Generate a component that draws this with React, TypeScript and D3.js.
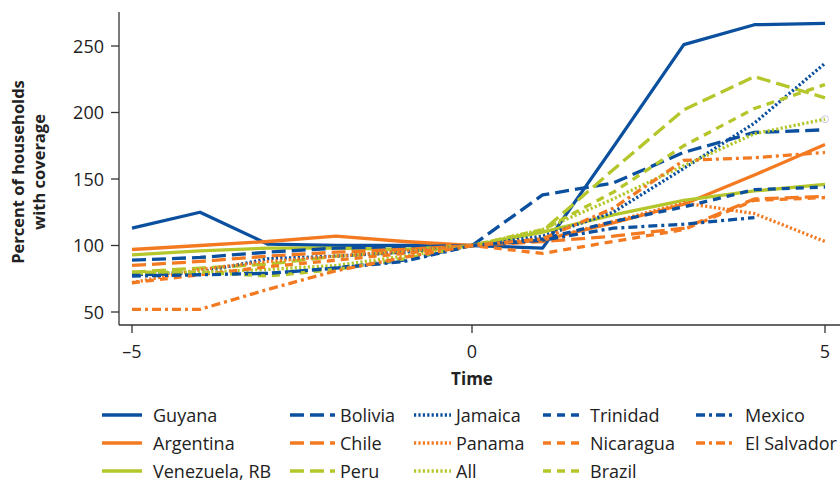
import React from "react";
import * as d3 from "d3";

const W = 840;
const H = 485;

const times = [-5, -4, -3, -2, -1, 0, 1, 2, 3, 4, 5];

const guyana = [113, 125, 101, 100, 100, 100, 98, 174, 251, 266, 267];
const argentina = [97, 100, 103, 107, 103, 100, 104, 117, 131, 153, 176];
const venezuela = [93, 96, 98, 98, 97, 100, 110, 123, 134, 141, 146];
const bolivia = [89, 91, 95, 98, 99, 100, 138, 147, 170, 185, 187];
const chile = [85, 88, 92, 95, 97, 100, 103, 107, 113, 135, 137];
const peru = [80, 83, 86, 92, 95, 100, 111, 157, 202, 227, 211];
const jamaica = [78, 80, 90, 92, 95, 100, 107, 125, 158, 192, 237];
const panama = [72, 82, 88, 92, 96, 100, 104, 118, 132, 124, 103];
const allCountries = [79, 80, 82, 85, 92, 100, 112, 135, 160, 184, 195];
const trinidad = [78, 79, 79, 83, 89, 100, 105, 118, 129, 142, 144];
const nicaragua = [72, 78, 84, 89, 94, 100, 94, 103, 112, 134, 136];
const brazil = [80, 80, 77, 82, 90, 100, 112, 140, 175, 203, 221];
const mexico = [77, 78, 79, 83, 88, 100, 104, 113, 116, 121, null];
const elSalvador = [52, 52, 67, 81, 91, 100, 105, 128, 164, 166, 170];

const yTicks = [50, 100, 150, 200, 250];
const xTicks = [-5, 0, 5];

const BLUE = "#0b4f9f";
const ORANGE = "#f47a22";
const GREEN = "#b5c62b";

const SOLID = "none";
const LONG = "14,6";
const DOT = "2.2,2.2";
const MED = "8,6";
const DASHDOT = "9,4,3,4";

type Series = {
  name: string;
  values: (number | null)[];
  color: string;
  dash: string;
  col: number;
  row: number;
};

const series: Series[] = [
  { name: "Guyana", values: guyana, color: BLUE, dash: SOLID, col: 0, row: 0 },
  { name: "Argentina", values: argentina, color: ORANGE, dash: SOLID, col: 0, row: 1 },
  { name: "Venezuela, RB", values: venezuela, color: GREEN, dash: SOLID, col: 0, row: 2 },
  { name: "Bolivia", values: bolivia, color: BLUE, dash: LONG, col: 1, row: 0 },
  { name: "Chile", values: chile, color: ORANGE, dash: LONG, col: 1, row: 1 },
  { name: "Peru", values: peru, color: GREEN, dash: LONG, col: 1, row: 2 },
  { name: "Jamaica", values: jamaica, color: BLUE, dash: DOT, col: 2, row: 0 },
  { name: "Panama", values: panama, color: ORANGE, dash: DOT, col: 2, row: 1 },
  { name: "All", values: allCountries, color: GREEN, dash: DOT, col: 2, row: 2 },
  { name: "Trinidad", values: trinidad, color: BLUE, dash: MED, col: 3, row: 0 },
  { name: "Nicaragua", values: nicaragua, color: ORANGE, dash: MED, col: 3, row: 1 },
  { name: "Brazil", values: brazil, color: GREEN, dash: MED, col: 3, row: 2 },
  { name: "Mexico", values: mexico, color: BLUE, dash: DASHDOT, col: 4, row: 0 },
  { name: "El Salvador", values: elSalvador, color: ORANGE, dash: DASHDOT, col: 4, row: 1 },
];

// legend column geometry: line start, line end, text start
const legendCols = [
  { x0: 102, x1: 142, tx: 153 },
  { x0: 290, x1: 335, tx: 340 },
  { x0: 414, x1: 451, tx: 456 },
  { x0: 543, x1: 583, tx: 590 },
  { x0: 696, x1: 734, tx: 745 },
];
const legendRows = [415, 443, 471];

const FONT = "'Open Sans', 'DejaVu Sans', sans-serif";
const TEXT = "#222";

export default function App() {
  const x = d3.scaleLinear().domain([-5, 0, 5]).range([132, 472, 825]);
  const y = d3.scaleLinear().domain([50, 250]).range([312, 46]);

  const axisLeftX = 119;
  const axisTop = 12;
  const axisBottomY = 325;

  const line = d3
    .line<[number, number]>()
    .x((d) => x(d[0]))
    .y((d) => y(d[1]));

  const pathFor = (vals: (number | null)[]) => {
    const pts: [number, number][] = [];
    vals.forEach((v, i) => {
      if (v !== null) pts.push([times[i], v]);
    });
    return line(pts) || "";
  };

  const allEnd = allCountries[allCountries.length - 1] as number;

  return (
    <svg
      width={W}
      height={H}
      style={{ position: "absolute", left: 0, top: 0, background: "#fff" }}
      fontFamily={FONT}
    >
      {/* series lines */}
      <g fill="none" strokeLinejoin="round">
        {series.map((s) => (
          <path
            key={s.name}
            d={pathFor(s.values)}
            stroke={s.color}
            strokeWidth={3.3}
            strokeDasharray={s.dash === SOLID ? undefined : s.dash}
          />
        ))}
      </g>
      <circle
        cx={x(5)}
        cy={y(allEnd)}
        r={3.5}
        fill="none"
        stroke="#c9cde2"
        strokeWidth={1}
      />

      {/* axes */}
      <g stroke="#333" strokeWidth={1.3} fill="none">
        <line x1={axisLeftX} x2={axisLeftX} y1={axisTop} y2={axisBottomY} />
        <line x1={axisLeftX} x2={W} y1={axisBottomY} y2={axisBottomY} />
        {yTicks.map((t) => (
          <line key={t} x1={axisLeftX - 8} x2={axisLeftX} y1={y(t)} y2={y(t)} />
        ))}
        {xTicks.map((t) => (
          <line key={t} x1={x(t)} x2={x(t)} y1={axisBottomY} y2={axisBottomY + 8} />
        ))}
      </g>
      <g fontSize={18} fill={TEXT}>
        {yTicks.map((t) => (
          <text key={t} x={104} y={y(t) + 6.5} textAnchor="end">
            {t}
          </text>
        ))}
        {xTicks.map((t) => (
          <text key={t} x={x(t)} y={358} textAnchor="middle">
            {t < 0 ? `\u2013${Math.abs(t)}` : t}
          </text>
        ))}
      </g>
      <text x={472} y={385} textAnchor="middle" fontSize={17} fontWeight="bold" fill={TEXT}>
        Time
      </text>
      <g
        transform="translate(0,172) rotate(-90)"
        fontSize={16.5}
        fontWeight="bold"
        fill={TEXT}
        textAnchor="middle"
      >
        <text x={0} y={24}>
          Percent of households
        </text>
        <text x={0} y={45}>
          with coverage
        </text>
      </g>

      {/* legend */}
      <g fontSize={18} fill={TEXT}>
        {series.map((s) => {
          const c = legendCols[s.col];
          const ry = legendRows[s.row];
          return (
            <g key={s.name}>
              <line
                x1={c.x0}
                x2={c.x1}
                y1={ry}
                y2={ry}
                stroke={s.color}
                strokeWidth={3.6}
                strokeDasharray={s.dash === SOLID ? undefined : s.dash}
              />
              <text x={c.tx} y={ry + 6.5}>
                {s.name}
              </text>
            </g>
          );
        })}
      </g>
    </svg>
  );
}
